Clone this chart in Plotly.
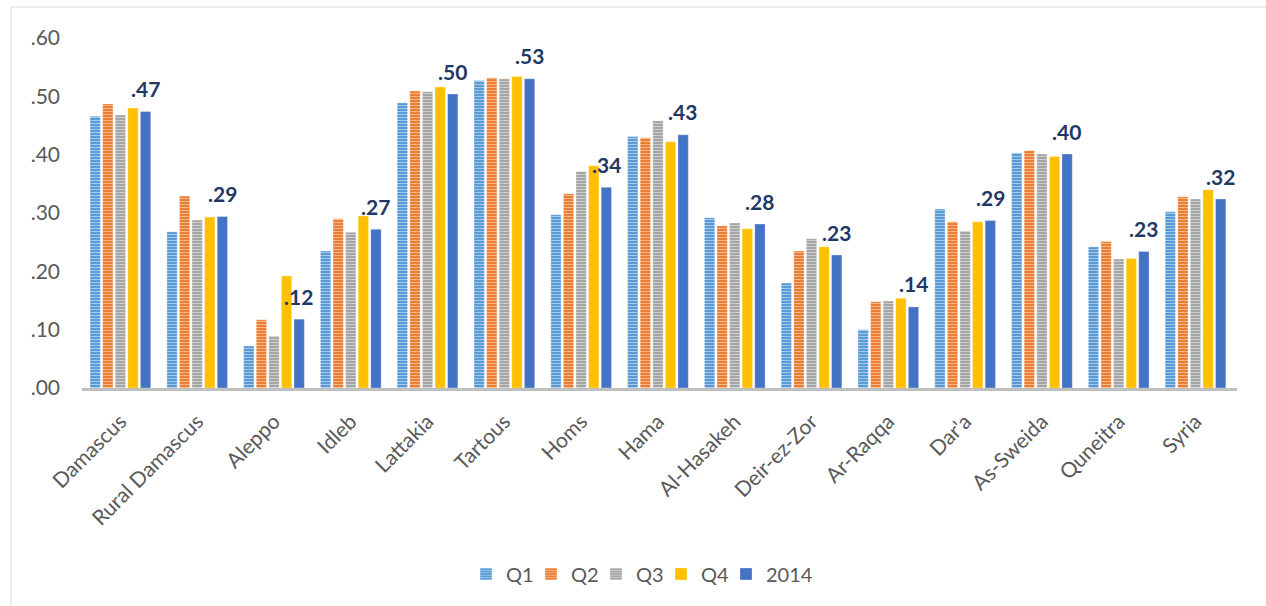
import plotly.graph_objects as go

categories = ["Damascus", "Rural Damascus", "Aleppo", "Idleb", "Lattakia", "Tartous",
              "Homs", "Hama", "Al-Hasakeh", "Deir-ez-Zor", "Ar-Raqqa", "Dar'a",
              "As-Sweida", "Quneitra", "Syria"]

q1 = [0.466, 0.268, 0.072, 0.235, 0.489, 0.527, 0.297, 0.431, 0.292, 0.180, 0.100, 0.307, 0.403, 0.242, 0.302]
q2 = [0.487, 0.329, 0.117, 0.290, 0.509, 0.532, 0.333, 0.429, 0.278, 0.235, 0.148, 0.285, 0.407, 0.251, 0.328]
q3 = [0.468, 0.288, 0.089, 0.267, 0.508, 0.530, 0.371, 0.458, 0.283, 0.256, 0.149, 0.269, 0.401, 0.221, 0.324]
q4 = [0.480, 0.293, 0.192, 0.295, 0.516, 0.534, 0.381, 0.422, 0.273, 0.242, 0.154, 0.285, 0.397, 0.222, 0.340]
y2014 = [0.474, 0.294, 0.118, 0.272, 0.504, 0.530, 0.344, 0.434, 0.281, 0.228, 0.139, 0.287, 0.401, 0.234, 0.324]

series_names = ["Q1", "Q2", "Q3", "Q4", "2014"]
series_values = [q1, q2, q3, q4, y2014]
series_colors = ["#5B9BD5", "#ED7D31", "#A5A5A5", "#FFC000", "#4472C4"]
series_striped = [True, True, True, False, False]

y_tickvals = [0.0, 0.1, 0.2, 0.3, 0.4, 0.5, 0.6]
y_ticktext = [".00", ".10", ".20", ".30", ".40", ".50", ".60"]

FONT = "Lato, sans-serif"

fig = go.Figure()
for name, vals, col, striped in zip(series_names, series_values, series_colors, series_striped):
    marker = dict(color=col, line=dict(color="rgba(255,255,255,0.6)", width=0.5))
    if striped:
        marker["pattern"] = dict(shape="-", fgcolor="white", fgopacity=0.45,
                                 size=3, solidity=0.35, fillmode="overlay")
    fig.add_trace(go.Bar(name=name, x=categories, y=vals, marker=marker))

# invisible spacer entry so the last legend label is not clipped
fig.add_trace(go.Scatter(x=[None], y=[None], mode="markers", name=" ",
                         marker=dict(color="rgba(0,0,0,0)"), hoverinfo="skip"))

# data labels for 2014 series
for c, v in zip(categories, y2014):
    fig.add_annotation(x=c, y=v, text="." + f"{v:.2f}".split(".")[1],
                       showarrow=False, xshift=25, yshift=23, yanchor="middle",
                       font=dict(family=FONT, size=21, color="#1F3864", weight="bold"))

L, R, T, B = 82, 29, 38, 218
W, H = 1266, 606
pw, ph = W - L - R, H - T - B

fig.add_shape(type="rect", xref="paper", yref="paper",
              x0=(11 - L) / pw, x1=(1285 - L) / pw,
              y0=-(630 - (H - B)) / ph, y1=1 + (T - 7) / ph,
              line=dict(color="#D9D9D9", width=1), fillcolor="rgba(0,0,0,0)", layer="below")

fig.update_layout(
    width=W, height=H,
    margin=dict(l=L, r=R, t=T, b=B),
    paper_bgcolor="white", plot_bgcolor="white",
    barmode="group", bargap=0.18, bargroupgap=0.18,
    font=dict(family=FONT, color="#595959", size=21),
    showlegend=True,
    legend=dict(orientation="h", x=(466 - L) / pw, xanchor="left",
                y=-(574 - (H - B)) / ph, yanchor="middle",
                font=dict(size=20, color="#595959"), itemwidth=30,
                entrywidth=20, entrywidthmode="pixels", traceorder="normal",
                bgcolor="rgba(0,0,0,0)"),
    xaxis=dict(showline=True, linecolor="#BFBFBF", linewidth=3, showgrid=False,
               tickangle=-45, ticks="", ticklabelstandoff=10,
               tickfont=dict(size=21, color="#595959")),
    yaxis=dict(range=[0, 0.6], showgrid=False, zeroline=False, showline=False,
               tickvals=y_tickvals, ticktext=y_ticktext, ticklabelstandoff=21,
               tickfont=dict(size=21, color="#595959")),
)

fig.write_html("out.html", config={"displayModeBar": False},
               post_script="document.body.style.margin='0';document.body.style.overflow='hidden';")
